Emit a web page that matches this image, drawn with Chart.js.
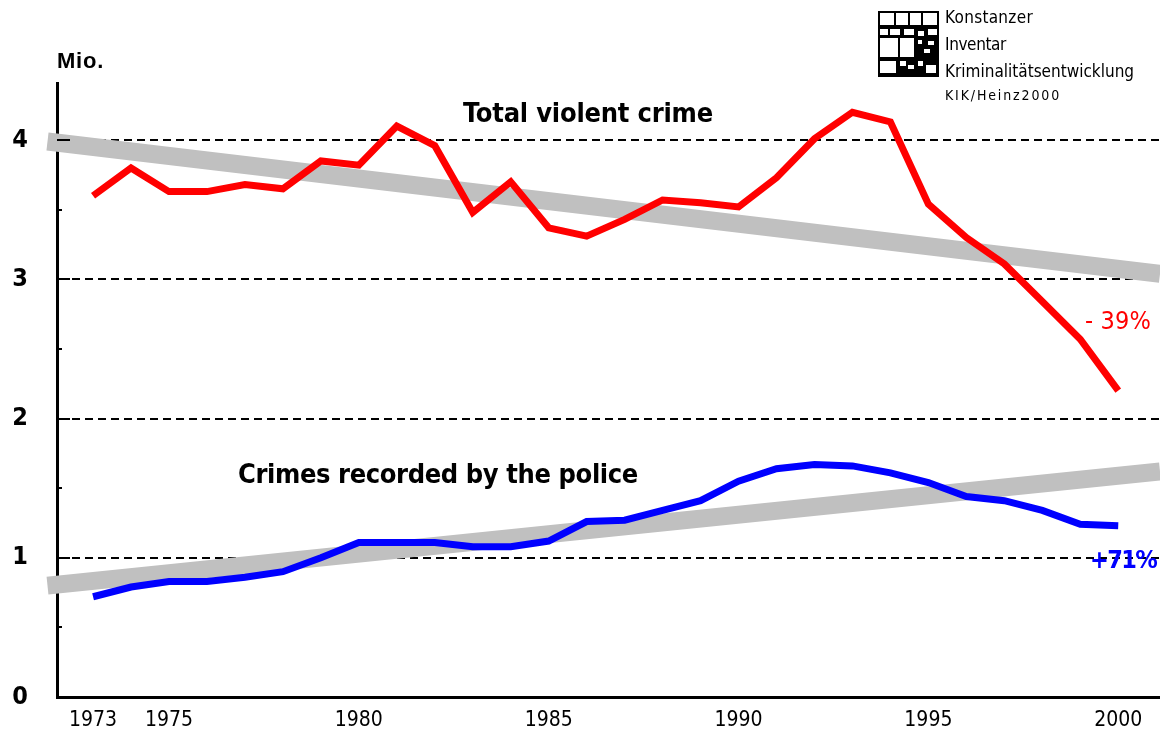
<!DOCTYPE html>
<html>
<head>
<meta charset="utf-8">
<script src="https://cdn.jsdelivr.net/npm/chart.js@4/dist/chart.umd.min.js"></script>
<style>
  html, body { margin: 0; padding: 0; background: #fff; }
  #wrap { width: 1160px; height: 741px; }
</style>
</head>
<body>
<div id="wrap"><canvas id="crimeChart"></canvas></div>
<script>
// data (millions)
const years = [1973, 1974, 1975, 1976, 1977, 1978, 1979, 1980, 1981, 1982, 1983, 1984, 1985, 1986,
               1987, 1988, 1989, 1990, 1991, 1992, 1993, 1994, 1995, 1996, 1997, 1998, 1999, 2000];
const violentCrime = [3.60, 3.80, 3.63, 3.63, 3.68, 3.65, 3.85, 3.82, 4.10, 3.96, 3.48, 3.70, 3.37, 3.31,
                      3.43, 3.57, 3.55, 3.52, 3.73, 4.01, 4.20, 4.13, 3.54, 3.30, 3.11, 2.84, 2.57, 2.20];
const policeRecorded = [0.72, 0.79, 0.83, 0.83, 0.86, 0.90, 1.00, 1.11, 1.11, 1.11, 1.08, 1.08, 1.12, 1.26,
                        1.27, 1.34, 1.41, 1.55, 1.64, 1.67, 1.66, 1.61, 1.54, 1.44, 1.41, 1.34, 1.24, 1.23];
const trendYears = [1971.8, 2001.1];
const violentTrend = [3.99, 3.04];
const policeTrend = [0.80, 1.62];
const xTickYears = [1973, 1975, 1980, 1985, 1990, 1995, 2000];
const yTickValues = [0, 1, 2, 3, 4];

const narrow = '"DejaVu Sans Condensed", "Liberation Sans Narrow", "Arial Narrow", Arial';

function toPoints(xs, ys) {
    return xs.map((x, i) => ({ x: x, y: ys[i] }));
}

// small inside tick marks, text labels and the KIK logo
const decorations = {
    id: 'decorations',
    afterDraw(chart) {
        const ctx = chart.ctx;
        const ys = chart.scales.y;
        const left = chart.chartArea.left;
        ctx.save();

        // tick marks on the y axis (inside)
        ctx.strokeStyle = '#000';
        ctx.lineWidth = 2;
        for (let v = 0.5; v <= 4; v += 0.5) {
            const py = Math.round(ys.getPixelForValue(v));
            const len = Number.isInteger(v) ? 13 : 5;
            ctx.beginPath();
            ctx.moveTo(left, py);
            ctx.lineTo(left + len, py);
            ctx.stroke();
        }

        // fit text into a given width using letter spacing
        function spaced(text, x, y, width, font, color) {
            ctx.font = font;
            ctx.fillStyle = color;
            ctx.letterSpacing = '0px';
            const w = ctx.measureText(text).width;
            const sp = (width - w) / text.length;
            ctx.letterSpacing = sp.toFixed(2) + 'px';
            ctx.textAlign = 'left';
            ctx.textBaseline = 'middle';
            ctx.fillText(text, x, y);
            ctx.letterSpacing = '0px';
        }

        spaced('Mio.', 57, 62, 47, 'bold 22px Arial, "Liberation Sans"', '#000');
        spaced('Total violent crime', 463, 115, 250, 'bold 27px ' + narrow, '#000');
        spaced('Crimes recorded by the police', 238, 476, 400, 'bold 27px ' + narrow, '#000');
        spaced('- 39%', 1085, 322, 66, '25px ' + narrow, '#ff0000');
        spaced('+71%', 1090, 561, 66, 'bold 25px ' + narrow, '#0000ff');

        // logo box
        const bx = 878, by = 11, bw = 61, bh = 66;
        ctx.fillStyle = '#000';
        ctx.fillRect(bx, by, bw, bh);
        ctx.fillStyle = '#fff';
        const cells = [
            [2, 2, 14, 12], [18, 2, 12, 12], [32, 2, 11, 12], [45, 2, 14, 12],
            [2, 18, 8, 6], [12, 18, 10, 6], [26, 18, 10, 6], [40, 20, 6, 5], [50, 18, 9, 6],
            [2, 27, 18, 19], [22, 27, 14, 19], [40, 29, 4, 4], [50, 30, 6, 4], [46, 38, 6, 4],
            [2, 50, 16, 12], [22, 50, 6, 5], [30, 54, 6, 4], [40, 50, 5, 5], [48, 54, 10, 8]
        ];
        cells.forEach(c => ctx.fillRect(bx + c[0], by + c[1], c[2], c[3]));

        spaced('Konstanzer', 945, 19, 88, '17px ' + narrow, '#000');
        spaced('Inventar', 945, 46, 61, '17px ' + narrow, '#000');
        spaced('Kriminalitätsentwicklung', 945, 73, 189, '17px ' + narrow, '#000');
        spaced('KIK/Heinz2000', 945, 96, 116, '14px ' + narrow, '#000');

        ctx.restore();
    }
};

const ctx = document.getElementById('crimeChart').getContext('2d');

new Chart(ctx, {
    type: 'line',
    data: {
        datasets: [
            {
                label: 'Total violent crime',
                data: toPoints(years, violentCrime),
                borderColor: '#ff0000',
                borderWidth: 7,
                pointRadius: 0,
                tension: 0,
                order: 1
            },
            {
                label: 'Crimes recorded by the police',
                data: toPoints(years, policeRecorded),
                borderColor: '#0000ff',
                borderWidth: 7,
                pointRadius: 0,
                tension: 0,
                order: 1
            },
            {
                label: 'Trend violent',
                data: toPoints(trendYears, violentTrend),
                borderColor: '#c0c0c0',
                borderWidth: 18,
                borderCapStyle: 'butt',
                pointRadius: 0,
                clip: false,
                order: 2
            },
            {
                label: 'Trend police',
                data: toPoints(trendYears, policeTrend),
                borderColor: '#c0c0c0',
                borderWidth: 18,
                borderCapStyle: 'butt',
                pointRadius: 0,
                clip: false,
                order: 2
            }
        ]
    },
    options: {
        responsive: true,
        maintainAspectRatio: false,
        animation: false,
        layout: { padding: { top: 83, right: 0, left: 0, bottom: 0 } },
        plugins: {
            legend: { display: false },
            tooltip: { enabled: false }
        },
        scales: {
            x: {
                type: 'linear',
                min: 1972.05,
                max: 2001.1,
                afterBuildTicks: s => { s.ticks = xTickYears.map(v => ({ value: v })); },
                afterFit: s => { s.height = 43; },
                ticks: {
                    callback: v => String(v),
                    color: '#000',
                    padding: 11,
                    maxRotation: 0,
                    autoSkip: false,
                    font: { family: narrow, size: 21 }
                },
                grid: { display: false, drawTicks: false },
                border: { display: true, color: '#000', width: 3 }
            },
            y: {
                min: 0,
                max: 4.41,
                afterBuildTicks: s => { s.ticks = yTickValues.map(v => ({ value: v })); },
                afterFit: s => { s.width = 57; },
                ticks: {
                    callback: v => String(v),
                    color: '#000',
                    padding: 29,
                    font: { family: narrow, size: 25, weight: 'bold' }
                },
                grid: {
                    drawTicks: false,
                    color: c => (c.tick && c.tick.value === 0) ? 'rgba(0,0,0,0)' : '#000',
                    lineWidth: 2
                },
                border: { display: true, color: '#000', width: 3, dash: [8, 5] }
            }
        }
    },
    plugins: [decorations]
});
</script>
</body>
</html>
